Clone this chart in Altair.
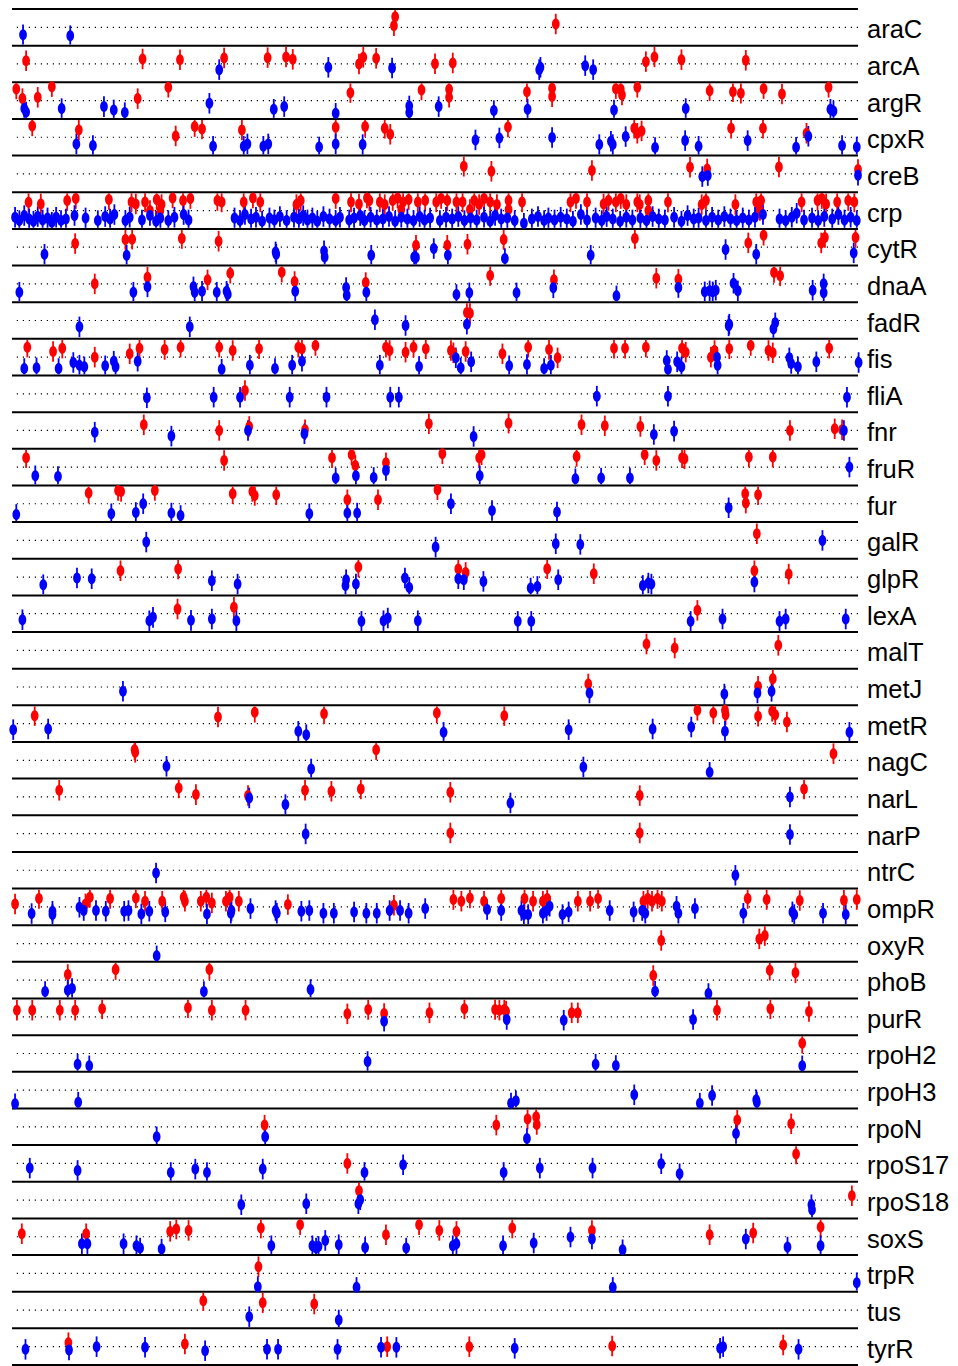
import altair as alt
import pandas as pd

# Row names (top to bottom)
names = ["araC", "arcA", "argR", "cpxR", "creB", "crp", "cytR", "dnaA", "fadR", "fis",
         "fliA", "fnr", "fruR", "fur", "galR", "glpR", "lexA", "malT", "metJ", "metR",
         "nagC", "narL", "narP", "ntrC", "ompR", "oxyR", "phoB", "purR", "rpoH2", "rpoH3",
         "rpoN", "rpoS17", "rpoS18", "soxS", "trpR", "tus", "tyrR"]

# Each site: (position along the genome axis, score; + above / - below the midline)
araC_red = [(645,32),(643,5),(907,10)]
araC_blue = [(38,-22),(115,-25)]
arcA_red = [(43,10),(233,15),(294,13),(366,18),(437,19),(467,21),(478,14),(586,0),(593,20),(614,17),(710,1),(739,3),(1054,7),(1068,21),(1112,13),(1217,11)]
arcA_blue = [(358,-17),(536,-10),(640,-12),(880,-17),(882,-10),(955,-5),(968,-17)]
argR_red = [(27,35),(37,6),(62,10),(85,42),(225,6),(275,40),(572,24),(688,32),(733,34),(733,10),(860,27),(901,37),(901,12),(1005,36),(1013,34),(1015,17),(1040,40),(1158,30),(1196,27),(1209,22),(1246,36),(1276,20),(1352,40)]
argR_blue = [(40,-24),(43,-34),(101,-24),(170,-18),(186,-28),(204,-36),(342,-8),(447,-26),(464,-18),(548,-38),(668,-16),(668,-36),(716,-18),(806,-30),(861,-26),(1002,-28),(1119,-24),(1355,-26),(1360,-31)]
cpxR_red = [(53,34),(129,22),(287,4),(318,32),(330,25),(395,22),(548,30),(596,32),(628,27),(637,9),(829,31),(1035,27),(1040,12),(1047,19),(1193,27),(1245,27),(1316,12)]
cpxR_blue = [(125,-20),(152,-25),(348,-27),(398,-27),(404,-20),(430,-27),(438,-20),(521,-29),(548,-20),(592,-22),(776,-8),(815,-2),(901,-1),(978,-22),(997,-12),(1000,-22),(1021,2),(1069,-31),(1118,-10),(1140,-27),(1220,-10),(1299,-30),(1319,3),(1374,-25),(1398,-29)]
creB_red = [(757,23),(802,8),(966,10),(1126,20),(1154,15),(1271,21),(1400,13)]
creB_blue = [(1146,-8),(1155,-5),(1400,-4)]
crp_red = [(47,25),(67,20),(110,30),(124,36),(178,33),(215,26),(222,20),(237,26),(245,0),(256,33),(262,0),(264,18),(282,38),(299,30),(311,36),(355,30),(362,26),(398,26),(413,38),(425,26),(484,18),(491,30),(548,36),(573,26),(586,20),(599,38),(603,30),(620,26),(628,18),(641,30),(649,38),(655,3),(658,26),(667,33),(682,26),(694,30),(712,26),(720,36),(730,30),(745,26),(755,26),(767,3),(774,30),(782,18),(790,36),(800,26),(811,18),(830,30),(830,3),(852,26),(931,26),(940,36),(958,26),(985,20),(993,30),(1005,26),(1013,36),(1022,18),(1040,26),(1044,18),(1058,30),(1058,0),(1090,26),(1145,18),(1152,30),(1200,18),(1234,26),(1240,0),(1242,30),(1308,26),(1334,30),(1341,36),(1348,20),(1366,26),(1384,30),(1394,26)]
crp_blue = [(25,-20),(32,-30),(40,-15),(48,-25),(55,-32),(62,-18),(70,-28),(78,-22),(85,-35),(92,-20),(100,-30),(108,-25),(122,-15),(140,-22),(160,-30),(172,-18),(180,-25),(187,-12),(205,-30),(212,-20),(232,-28),(245,-15),(255,-32),(262,-22),(275,-30),(285,-20),(300,-12),(308,-28),(383,-22),(392,-30),(400,-12),(410,-25),(418,-20),(428,-32),(440,-22),(448,-28),(457,-18),(468,-30),(480,-20),(488,-25),(495,-15),(502,-28),(510,-22),(518,-32),(528,-18),(538,-25),(548,-30),(555,-20),(570,-28),(578,-22),(588,-15),(595,-30),(605,-20),(615,-28),(625,-25),(635,-18),(645,-32),(655,-20),(665,-25),(675,-30),(685,-18),(693,-28),(702,-22),(718,-30),(728,-20),(738,-25),(748,-18),(758,-30),(768,-22),(778,-28),(790,-20),(800,-32),(808,-15),(818,-25),(828,-22),(840,-30),(855,-38),(868,-25),(878,-18),(888,-30),(895,-22),(905,-28),(915,-20),(925,-25),(935,-32),(948,-12),(958,-28),(972,-22),(982,-30),(990,-18),(1000,-25),(1012,-32),(1022,-20),(1032,-28),(1045,-22),(1055,-30),(1065,-18),(1075,-25),(1085,-28),(1100,-20),(1112,-32),(1122,-15),(1132,-25),(1140,-22),(1152,-30),(1162,-20),(1172,-28),(1182,-18),(1192,-25),(1202,-30),(1212,-22),(1222,-28),(1232,-20),(1245,-12),(1272,-25),(1282,-30),(1292,-20),(1300,-8),(1312,-28),(1325,-22),(1335,-30),(1345,-18),(1358,-25),(1368,-12),(1378,-28),(1388,-20),(1398,-30)]
cytR_red = [(123,11),(205,23),(216,24),(297,26),(357,18),(679,6),(730,6),(763,9),(822,23),(1036,26),(1221,13),(1246,36),(1340,13),(1346,29),(1396,29)]
cytR_blue = [(73,-21),(207,-24),(450,-14),(451,-21),(529,-11),(530,-29),(606,-24),(676,-29),(679,-31),(708,-4),(731,-24),(824,-34),(964,-24),(1184,-7),(1234,-21),(1393,-17)]
dnaA_red = [(155,0),(241,20),(339,12),(376,32),(460,35),(481,7),(597,4),(800,25),(904,12),(1071,17),(1107,14),(1263,34),(1273,24)]
dnaA_blue = [(32,-25),(218,-25),(241,-9),(316,-9),(318,-25),(330,-22),(354,-25),(370,-22),(372,-31),(482,-22),(565,-11),(566,-34),(598,-25),(745,-32),(766,-27),(843,-27),(903,-12),(1006,-36),(1107,-11),(1150,-24),(1158,-21),(1163,-24),(1168,-19),(1197,2),(1204,-21),(1326,-19),(1344,0),(1344,-27)]
fadR_red = [(762,24),(767,22)]
fadR_blue = [(130,-19),(310,-19),(612,2),(662,-15),(762,-11),(1190,-11),(1189,-16),(1265,-7),(1262,-25)]
fis_red = [(45,30),(87,17),(102,27),(155,0),(212,10),(228,27),(269,23),(295,30),(358,30),(380,20),(423,25),(487,30),(493,25),(515,35),(630,30),(636,20),(662,15),(675,30),(695,25),(736,20),(740,13),(760,17),(820,10),(862,30),(896,23),(910,-2),(1002,27),(1020,27),(1054,30),(1113,27),(1119,15),(1160,0),(1166,20),(1190,25),(1225,35),(1254,20),(1261,13),(1353,27)]
fis_blue = [(40,-34),(60,-32),(96,-34),(120,-16),(130,-24),(138,-29),(172,-26),(186,-12),(189,-29),(225,-12),(362,-36),(408,-24),(449,-34),(477,-24),(493,-12),(620,-24),(684,-28),(744,-2),(752,-32),(769,-14),(831,-26),(860,-22),(888,-34),(899,-24),(1088,-10),(1090,-36),(1105,-14),(1112,-29),(1170,0),(1171,-24),(1288,-2),(1291,-19),(1302,-29),(1332,-14),(1401,-16)]
fliA_red = [(400,10)]
fliA_blue = [(240,-12),(349,-10),(392,-10),(473,-10),(533,-10),(637,-10),(651,-10),(974,-7),(1090,-7),(1382,-10)]
fnr_red = [(235,17),(358,0),(407,12),(498,2),(700,20),(830,22),(949,17),(987,14),(1045,12),(1289,0),(1362,5),(1374,2)]
fnr_blue = [(155,-5),(280,-17),(405,0),(497,-10),(773,-18),(1067,-12),(1100,-2),(1377,0)]
fruR_red = [(43,28),(366,20),(542,28),(574,37),(580,5),(630,13),(722,40),(782,28),(786,37),(941,32),(1052,37),(1071,20),(1113,28),(1117,25),(1222,30),(1261,30)]
fruR_blue = [(58,-26),(95,-28),(548,-33),(581,-26),(610,-31),(630,-10),(783,-26),(939,-35),(981,-33),(1028,-33),(1386,0)]
fur_red = [(145,32),(193,40),(198,37),(253,40),(380,30),(412,37),(416,25),(451,27),(567,12),(617,12),(714,42),(1216,30),(1217,2),(1237,27)]
fur_blue = [(27,-32),(182,-30),(222,-26),(234,0),(280,-28),(295,-35),(505,-30),(567,-28),(583,-28),(736,0),(803,-20),(909,-25),(1189,-12)]
galR_red = [(1235,20)]
galR_blue = [(239,-5),(711,-20),(907,-10),(947,-12),(1342,0)]
glpR_red = [(197,19),(291,24),(585,30),(748,24),(760,14),(893,25),(969,10),(1231,19),(1287,9)]
glpR_blue = [(71,-23),(126,-3),(150,-5),(346,-11),(388,-21),(565,-8),(564,-25),(581,-21),(661,-3),(668,-31),(748,-5),(757,-8),(789,-13),(866,-33),(877,-28),(911,-8),(1049,-25),(1058,-18),(1063,-21),(1231,-15)]
lexA_red = [(290,14),(382,19),(1138,10)]
lexA_blue = [(37,-18),(244,-21),(250,-11),(312,-20),(346,-16),(386,-21),(590,-23),(626,-21),(633,-13),(682,-21),(845,-23),(867,-23),(1127,-23),(1179,-16),(1272,-23),(1282,-16),(1380,-16)]
malT_red = [(1055,19),(1101,7),(1270,15)]
malT_blue = []
metJ_red = [(960,9),(1237,2),(1261,25)]
metJ_blue = [(201,-13),(962,-18),(1182,-21),(1236,-18),(1259,-13)]
metR_red = [(57,24),(356,20),(416,34),(529,30),(713,32),(823,24),(1138,40),(1164,32),(1183,40),(1184,27),(1237,22),(1260,37),(1265,27),(1284,5)]
metR_blue = [(22,-18),(79,-16),(487,-23),(500,-33),(724,-26),(928,-18),(1065,-16),(1128,-10),(1183,-23),(1386,-26)]
nagC_red = [(220,32),(221,24),(614,32),(1360,20)]
nagC_blue = [(272,-18),(508,-26),(952,-20),(1158,-36)]
narL_red = [(97,20),(292,27),(320,7),(405,4),(498,20),(541,17),(589,24),(735,14),(1044,4),(1312,24)]
narL_blue = [(407,-3),(466,-23),(833,-18),(1289,0)]
narP_red = [(735,2),(1044,2)]
narP_blue = [(499,-1),(1289,-3)]
ntrC_red = []
ntrC_blue = [(255,-8),(1200,-15)]
ompR_red = [(25,9),(64,25),(140,9),(147,29),(180,25),(222,27),(237,17),(265,17),(300,29),(302,17),(328,17),(337,29),(346,12),(369,17),(375,29),(390,17),(470,7),(643,5),(740,22),(753,17),(767,27),(790,17),(818,25),(856,25),(870,17),(886,17),(893,25),(943,17),(963,17),(976,25),(1050,17),(1057,25),(1064,17),(1073,25),(1080,17),(1220,25),(1251,22),(1305,19),(1377,20),(1398,22)]
ompR_blue = [(52,-20),(86,-13),(86,-23),(130,-1),(137,-11),(157,-11),(173,-13),(203,-13),(210,-11),(231,-21),(244,-13),(270,-15),(338,-21),(377,-19),(378,-11),(409,-5),(450,-11),(452,-19),(492,-13),(505,-11),(528,-19),(545,-19),(578,-15),(598,-19),(615,-19),(636,-11),(653,-11),(667,-19),(694,-5),(795,-8),(818,-11),(851,-11),(855,-23),(862,-23),(886,-19),(892,-11),(897,2),(918,-23),(928,-15),(995,-11),(1034,-15),(1048,-11),(1053,-19),(1104,2),(1107,-19),(1134,-5),(1213,-19),(1293,-15),(1296,-23),(1343,-19),(1380,-23)]
oxyR_red = [(1079,9),(1239,14),(1248,24)]
oxyR_blue = [(256,-37)]
phoB_red = [(111,17),(189,32),(342,32),(1066,14),(1256,30),(1298,22)]
phoB_blue = [(74,-34),(111,-30),(118,-25),(333,-34),(507,-28),(1069,-33),(1156,-40)]
purR_red = [(28,20),(53,20),(98,20),(123,20),(167,24),(307,27),(346,20),(401,20),(567,9),(601,22),(627,10),(701,12),(758,24),(808,22),(815,20),(823,22),(826,17),(933,12),(943,12),(1170,20),(1257,24),(1320,16)]
purR_blue = [(627,-13),(827,-8),(920,-10),(1131,-8)]
rpoH2_red = [(1309,31)]
rpoH2_blue = [(127,-32),(146,-37),(600,-24),(972,-32),(1005,-36),(1309,-37)]
rpoH3_red = []
rpoH3_blue = [(25,-41),(128,-36),(834,-39),(842,-32),(1035,-14),(1142,-39),(1162,-16),(1234,-29),(1235,-36)]
rpoN_red = [(432,5),(810,5),(861,23),(875,30),(876,7),(1203,20),(1291,9)]
rpoN_blue = [(256,-30),(433,-30),(860,-35),(1201,-20)]
rpoS17_red = [(567,0),(1299,28)]
rpoS17_blue = [(49,-14),(127,-21),(279,-27),(319,-17),(338,-27),(429,-17),(595,-27),(658,-4),(822,-27),(881,-14),(967,-14),(1079,-1),(1109,-31)]
rpoS18_red = [(586,28),(1390,13)]
rpoS18_blue = [(394,-14),(500,-11),(588,1),(585,-11),(1324,-14),(1325,-29)]
soxS_red = [(36,9),(141,9),(278,16),(288,23),(308,19),(426,26),(490,36),(630,6),(684,36),(717,19),(745,16),(836,26),(966,19),(1158,6),(1229,11),(1339,29)]
soxS_blue = [(134,-21),(143,-21),(202,-21),(223,-27),(229,-34),(264,-37),(443,-27),(510,-27),(516,-34),(520,-29),(531,-11),(553,-24),(596,-32),(663,-34),(739,-27),(745,-21),(821,-27),(871,-19),(931,-1),(966,-7),(1016,-39),(1217,-7),(1285,-31),(1339,-27)]
trpR_red = [(422,20)]
trpR_blue = [(421,-40),(582,-42),(1000,-42),(1398,-28)]
tus_red = [(332,28),(429,22),(513,18)]
tus_blue = [(407,-20),(553,-30)]
tyrR_red = [(112,12),(302,8),(632,0),(766,0),(999,2),(1278,5)]
tyrR_blue = [(42,-8),(113,-10),(158,0),(237,-2),(335,-12),(436,-8),(454,-8),(551,-8),(622,-2),(647,-2),(840,-5),(1175,-5),(1180,0),(1303,-8)]

row_sites = [
    (araC_red, araC_blue), (arcA_red, arcA_blue), (argR_red, argR_blue), (cpxR_red, cpxR_blue),
    (creB_red, creB_blue), (crp_red, crp_blue), (cytR_red, cytR_blue), (dnaA_red, dnaA_blue),
    (fadR_red, fadR_blue), (fis_red, fis_blue), (fliA_red, fliA_blue), (fnr_red, fnr_blue),
    (fruR_red, fruR_blue), (fur_red, fur_blue), (galR_red, galR_blue), (glpR_red, glpR_blue),
    (lexA_red, lexA_blue), (malT_red, malT_blue), (metJ_red, metJ_blue), (metR_red, metR_blue),
    (nagC_red, nagC_blue), (narL_red, narL_blue), (narP_red, narP_blue), (ntrC_red, ntrC_blue),
    (ompR_red, ompR_blue), (oxyR_red, oxyR_blue), (phoB_red, phoB_blue), (purR_red, purR_blue),
    (rpoH2_red, rpoH2_blue), (rpoH3_red, rpoH3_blue), (rpoN_red, rpoN_blue),
    (rpoS17_red, rpoS17_blue), (rpoS18_red, rpoS18_blue), (soxS_red, soxS_blue),
    (trpR_red, trpR_blue), (tus_red, tus_blue), (tyrR_red, tyrR_blue),
]

SCORE_SPAN = 110.0   # score units per row
WH = 0.28            # whisker half length, in rows

recs = []
for i, (name, (red, blue)) in enumerate(zip(names, row_sites)):
    for strand, pts in (("+", red), ("-", blue)):
        for x, s in pts:
            y = i + 0.5 - s / SCORE_SPAN
            recs.append({"tf": name, "strand": strand, "pos": x, "y": y,
                         "lo": max(y - WH, i + 0.03), "hi": min(y + WH, i + 0.97)})
sites = pd.DataFrame(recs)

n = len(names)
bounds = pd.DataFrame({"b": list(range(n + 1))})
mids = pd.DataFrame({"m": [i + 0.5 for i in range(n)], "tf": names})

xs = alt.Scale(domain=[20, 1400], nice=False, zero=False)
ys = alt.Scale(domain=[0, n], reverse=True, nice=False, zero=False)
cs = alt.Scale(domain=["+", "-"], range=["#ff0000", "#0000ff"])

dotted = alt.Chart(mids).mark_rule(strokeDash=[1.2, 4.8], color="black", strokeWidth=1.2).encode(
    y=alt.Y("m:Q", scale=ys, axis=None))
solid = alt.Chart(bounds).mark_rule(color="black", strokeWidth=2).encode(
    y=alt.Y("b:Q", scale=ys, axis=None))
whisk = alt.Chart(sites).mark_rule(strokeWidth=1.8).encode(
    x=alt.X("pos:Q", scale=xs, axis=None),
    y=alt.Y("lo:Q", scale=ys, axis=None), y2="hi:Q",
    color=alt.Color("strand:N", scale=cs, legend=None))
ellipse = "M -0.7 0 A 0.7 1 0 1 1 0.7 0 A 0.7 1 0 1 1 -0.7 0 Z"
pts = alt.Chart(sites).mark_point(shape=ellipse, filled=True, opacity=1, size=121, strokeWidth=0).encode(
    x=alt.X("pos:Q", scale=xs, axis=None),
    y=alt.Y("y:Q", scale=ys, axis=None),
    color=alt.Color("strand:N", scale=cs, legend=None))
labels = alt.Chart(mids).mark_text(align="left", baseline="alphabetic", dy=11,
                                   font="Liberation Sans", fontSize=25.5, color="black").encode(
    x=alt.value(855), y=alt.Y("m:Q", scale=ys, axis=None), text="tf:N")

chart = alt.layer(dotted, solid, whisk, pts, labels).properties(
    width=846, height=1356,
    autosize=alt.AutoSizeParams(type="none"),
    padding={"left": 4, "top": 1, "right": 92, "bottom": 1}
).configure_view(stroke=None)

chart.save("out.html", embed_options={"renderer": "svg", "actions": False})
